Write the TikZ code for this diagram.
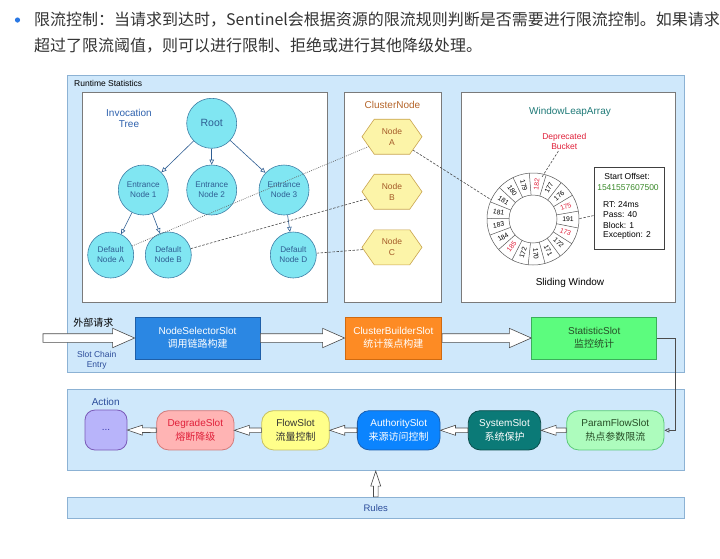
\documentclass[tikz,border=0pt]{standalone}
\usepackage{fontspec}
\setmainfont{Liberation Sans}
\newfontfamily\cjk{Noto Sans CJK SC}
\usetikzlibrary{shapes.symbols,arrows.meta,calc}
\definecolor{panelfill}{HTML}{CFE8FB}
\definecolor{paneldraw}{HTML}{8CB2D4}
\definecolor{boxgray}{HTML}{7A7A7A}
\definecolor{cyanfill}{HTML}{80E6F2}
\definecolor{cyandraw}{HTML}{3F7FA6}
\definecolor{treeblue}{HTML}{2F5E93}
\definecolor{labelblue}{HTML}{2B4C9A}
\definecolor{invblue}{HTML}{2F62AE}
\definecolor{hexfill}{HTML}{FCF4A8}
\definecolor{hexdraw}{HTML}{C9A44E}
\definecolor{hextext}{HTML}{A45A28}
\definecolor{cntext}{HTML}{B5652A}
\definecolor{tealtext}{HTML}{1F7A78}
\definecolor{redtext}{HTML}{E0203A}
\definecolor{greentext}{HTML}{3A8A2A}
\definecolor{textgray}{HTML}{333333}
\definecolor{bulletblue}{HTML}{2A78E4}
\definecolor{nsfill}{HTML}{2B87E3}
\definecolor{nsdraw}{HTML}{1F5FA8}
\definecolor{cbfill}{HTML}{FD8B24}
\definecolor{cbdraw}{HTML}{D06A10}
\definecolor{stfill}{HTML}{5CFC7E}
\definecolor{stdraw}{HTML}{3AB05A}
\definecolor{darkgreen}{HTML}{264D26}
\definecolor{dotsfill}{HTML}{B8B4FA}
\definecolor{dotsdraw}{HTML}{7A5AB8}
\definecolor{dotstext}{HTML}{3A3AB0}
\definecolor{degfill}{HTML}{FFB4B4}
\definecolor{degdraw}{HTML}{D27A7A}
\definecolor{flowfill}{HTML}{FFFF8A}
\definecolor{flowdraw}{HTML}{C8C060}
\definecolor{authfill}{HTML}{0B84FE}
\definecolor{authdraw}{HTML}{1A5FB0}
\definecolor{sysfill}{HTML}{0B7A77}
\definecolor{sysdraw}{HTML}{0B4D4B}
\definecolor{pffill}{HTML}{ADFCBD}
\definecolor{pfdraw}{HTML}{5CC97A}
\newcommand\hollowarrow[5]{%
  \path ($(#2)!#5!(#1)$) coordinate (ha-h);
  \draw[hollow] ($(#1)!#3!90:(#2)$) -- ($(ha-h)!#3!90:(#2)$) -- ($(ha-h)!#4!90:(#2)$)
    -- (#2) -- ($(ha-h)!#4!-90:(#2)$) -- ($(ha-h)!#3!-90:(#2)$) -- ($(#1)!#3!-90:(#2)$) -- cycle;
}
\begin{document}
\begin{tikzpicture}[x=1pt,y=-1pt,
  panel/.style={rectangle, draw=paneldraw, fill=panelfill, line width=0.8pt, inner sep=0},
  whitebox/.style={rectangle, draw=boxgray, fill=white, line width=0.9pt, inner sep=0},
  tnode/.style={circle, draw=cyandraw, fill=cyanfill, line width=0.6pt, inner sep=0, align=center, text=treeblue, font=\fontsize{8.2}{10}\selectfont},
  hexnode/.style={shape=signal, signal to=east and west, signal pointer angle=110, draw=hexdraw, fill=hexfill, line width=0.6pt, minimum width=60pt, minimum height=35pt, inner sep=0, align=center, text=hextext, font=\fontsize{8.5}{11}\selectfont},
  slotbox/.style={rectangle, line width=0.8pt, minimum height=42pt, inner sep=0, align=center, font=\fontsize{10}{12.5}\selectfont},
  actbox/.style={rectangle, rounded corners=12pt, line width=0.8pt, minimum height=39.3pt, inner sep=0, align=center, font=\fontsize{10}{13.5}\selectfont},
  treearrow/.style={draw=treeblue, line width=0.6pt, -{Triangle[open, length=5pt, width=4.5pt]}},
  linkdash/.style={draw=black!70, dash pattern=on 2.5pt off 1.5pt, line width=0.6pt},
  linkdot/.style={draw=black!60, dash pattern=on 0.8pt off 1.2pt, line width=0.7pt},
  hollow/.style={draw=black!70, fill=white, line width=0.6pt},
  ringline/.style={draw=black!65, line width=0.5pt},
  lbl/.style={inner sep=0, align=center}
]
\useasboundingbox (0,0) rectangle (720,558);
\fill[white] (0,0) rectangle (720,558);

% header
\fill[bulletblue] (17.5,20) circle[radius=2.6pt];
\node[anchor=west, inner sep=0, text=textgray, font=\cjk\fontsize{16}{16}\selectfont] (h1) at (34,20) {限流控制：当请求到达时，Sentinel会根据资源的限流规则判断是否需要进行限流控制。如果请求};
\node[anchor=west, inner sep=0, text=textgray, font=\cjk\fontsize{16}{16}\selectfont] (h2) at (34,46) {超过了限流阈值，则可以进行限制、拒绝或进行其他降级处理。};

% panels
\node[panel, minimum width=617.5pt, minimum height=297pt] (rt) at (375.75,223.5) {};
\node[anchor=west, inner sep=0, font=\fontsize{8.5}{10}\selectfont] (rtl) at (74,83.5) {Runtime Statistics};
\node[panel, minimum width=617.5pt, minimum height=81.4pt] (act) at (375.75,430) {};
\node[lbl, text=labelblue, font=\fontsize{10}{12}\selectfont] (actl) at (105.7,401.7) {Action};
\node[panel, minimum width=617.5pt, minimum height=21pt, text=labelblue, font=\fontsize{9.5}{11}\selectfont] (rules) at (375.75,507.8) {Rules};

\node[whitebox, minimum width=245pt, minimum height=210pt] (invbox) at (204.5,197) {};
\node[whitebox, minimum width=97pt, minimum height=210pt] (cnbox) at (392.5,197) {};
\node[whitebox, minimum width=214pt, minimum height=210pt] (wbox) at (568.7,197) {};

% invocation tree
\node[lbl, text=invblue, font=\fontsize{10}{11.5}\selectfont] (invl) at (129,118.5) {Invocation\\Tree};
\node[tnode, minimum size=50pt, font=\fontsize{10.5}{12}\selectfont] (root) at (211.7,123.3) {Root};
\node[tnode, minimum size=50pt] (en1) at (143.3,190) {Entrance\\Node 1};
\node[tnode, minimum size=50pt] (en2) at (211.7,190) {Entrance\\Node 2};
\node[tnode, minimum size=50pt] (en3) at (284,190) {Entrance\\Node 3};
\node[tnode, minimum size=46pt] (dA) at (110.7,255) {Default\\Node A};
\node[tnode, minimum size=46pt] (dB) at (168.3,255) {Default\\Node B};
\node[tnode, minimum size=46pt] (dD) at (293.3,255) {Default\\Node D};
\draw[treearrow] (root) -- (en1);
\draw[treearrow] (root) -- (en2);
\draw[treearrow] (root) -- (en3);
\draw[treearrow] (en1) -- (dA);
\draw[treearrow] (en1) -- (dB);
\draw[treearrow] (en3) -- (dD);

% cluster nodes
\node[lbl, text=cntext, font=\fontsize{10}{12}\selectfont] (cnl) at (392.5,105) {ClusterNode};
\node[hexnode] (hA) at (392,136.7) {Node\\A};
\node[hexnode] (hB) at (392,191.7) {Node\\B};
\node[hexnode] (hC) at (392,247.3) {Node\\C};

% window leap array
\node[lbl, text=tealtext, font=\fontsize{10}{12}\selectfont] (wlal) at (570,111.7) {WindowLeapArray};
\node[lbl, text=redtext, font=\fontsize{8.5}{10}\selectfont, inner sep=1pt] (dep) at (564.3,141.7) {Deprecated\\Bucket};
\node[lbl, font=\fontsize{10}{12}\selectfont] (swl) at (570,283.3) {Sliding Window};
\coordinate (ring) at (533,219);
\coordinate (ringA) at (491.5,200);
\coordinate (depEnd) at (542,177);
\coordinate (infoEnd) at (578.5,218.8);
\fill[white] (ring) circle[radius=46pt];
\draw[ringline] (ring) circle[radius=46pt] (ring) circle[radius=24pt];
\foreach \k in {0,...,16} {
  \pgfmathsetmacro\bb{84+360/34-\k*360/17}
  \draw[ringline] ($(ring)+(\bb:24pt)$) -- ($(ring)+(\bb:46pt)$);
}
\foreach \num/\col [count=\i from 0] in {182/redtext,177/black,176/black,175/redtext,191/black,173/redtext,172/black,171/black,170/black,172/black,185/redtext,184/black,183/black,181/black,181/black,180/black,179/black} {
  \pgfmathsetmacro\aa{84-\i*360/17}
  \pgfmathsetmacro\rr{cos(\aa)<0 ? \aa+180 : \aa}
  \node[rotate=\rr, text=\col, font=\fontsize{6.8}{7}\selectfont, inner sep=0] at ($(ring)+(\aa:35pt)$) {\num};
}
\node[rectangle, draw=black!75, fill=white, line width=0.8pt, minimum width=70pt, minimum height=82pt, inner sep=0] (info) at (629,208) {};
\node[lbl, font=\fontsize{8.5}{10}\selectfont] (so) at (627,176.7) {Start Offset:};
\node[lbl, text=greentext, font=\fontsize{8.5}{10}\selectfont] (sov) at (628,187.3) {1541557607500};
\node[anchor=west, inner sep=0, font=\fontsize{8.5}{10}\selectfont] (rtv) at (603,204.3) {RT: 24ms};
\node[anchor=west, inner sep=0, font=\fontsize{8.5}{10}\selectfont] (pav) at (603,214.7) {Pass: 40};
\node[anchor=west, inner sep=0, font=\fontsize{8.5}{10}\selectfont] (blv) at (603,225.2) {Block: 1};
\node[anchor=west, inner sep=0, font=\fontsize{8.5}{10}\selectfont] (exv) at (603,235.7) {Exception: 2};

% links
\draw[linkdot] (dA) -- (hA);
\draw[linkdash] (dB) -- (hB);
\draw[linkdash] (dD) -- (hC);
\draw[linkdash] (hA) -- (ringA);
\draw[linkdash] (dep) -- (depEnd);
\draw[linkdash] (info) -- (infoEnd);

% slot chain
\coordinate (entry) at (43,338);
\node[lbl, font=\cjk\fontsize{10}{12}\selectfont] (ext) at (93.3,322.7) {外部请求};
\node[lbl, text=labelblue, font=\fontsize{8.5}{10}\selectfont] (sce) at (96.7,360) {Slot Chain\\Entry};
\node[slotbox, draw=nsdraw, fill=nsfill, text=white, minimum width=125pt] (ns) at (197.5,338) {NodeSelectorSlot\\{\cjk 调用链路构建}};
\node[slotbox, draw=cbdraw, fill=cbfill, text=white, minimum width=96.7pt] (cb) at (393.3,338) {ClusterBuilderSlot\\{\cjk 统计簇点构建}};
\node[slotbox, draw=stdraw, fill=stfill, text=darkgreen, minimum width=125pt] (st) at (594.2,338) {StatisticSlot\\{\cjk 监控统计}};
\hollowarrow{entry}{ns.west}{4.3pt}{9.7pt}{22pt}
\hollowarrow{ns.east}{cb.west}{4.3pt}{9.7pt}{22pt}
\hollowarrow{cb.east}{st.west}{4.3pt}{9.7pt}{22pt}

% actions
\node[actbox, rounded corners=10pt, draw=dotsdraw, fill=dotsfill, text=dotstext, minimum width=42pt, minimum height=40pt] (dots) at (106,430) {...};
\node[actbox, draw=degdraw, fill=degfill, text=redtext, minimum width=77.3pt] (deg) at (195.3,430.3) {DegradeSlot\\{\cjk 熔断降级}};
\node[actbox, draw=flowdraw, fill=flowfill, text=textgray, minimum width=67.6pt] (flow) at (295.5,430.3) {FlowSlot\\{\cjk 流量控制}};
\node[actbox, draw=authdraw, fill=authfill, text=white, minimum width=82.7pt] (auth) at (398.7,430.3) {AuthoritySlot\\{\cjk 来源访问控制}};
\node[actbox, draw=sysdraw, fill=sysfill, text=white, minimum width=72.4pt] (sys) at (504.5,430.3) {SystemSlot\\{\cjk 系统保护}};
\node[actbox, draw=pfdraw, fill=pffill, text=darkgreen, minimum width=97.3pt] (pf) at (615.3,430.3) {ParamFlowSlot\\{\cjk 热点参数限流}};
\hollowarrow{pf.west}{sys.east}{2.3pt}{5pt}{15pt}
\hollowarrow{sys.west}{auth.east}{2.3pt}{5pt}{15pt}
\hollowarrow{auth.west}{flow.east}{2.3pt}{5pt}{15pt}
\hollowarrow{flow.west}{deg.east}{2.3pt}{5pt}{15pt}
\hollowarrow{deg.west}{dots.east}{2.3pt}{5pt}{15pt}
\hollowarrow{rules.north}{act.south}{2.3pt}{5pt}{15pt}

\draw[draw=black!70, line width=0.7pt, -{Triangle[open, length=5pt, width=4.5pt]}] (st.east) -- ++(18.3,0) |- (pf.east);
\end{tikzpicture}
\end{document}
